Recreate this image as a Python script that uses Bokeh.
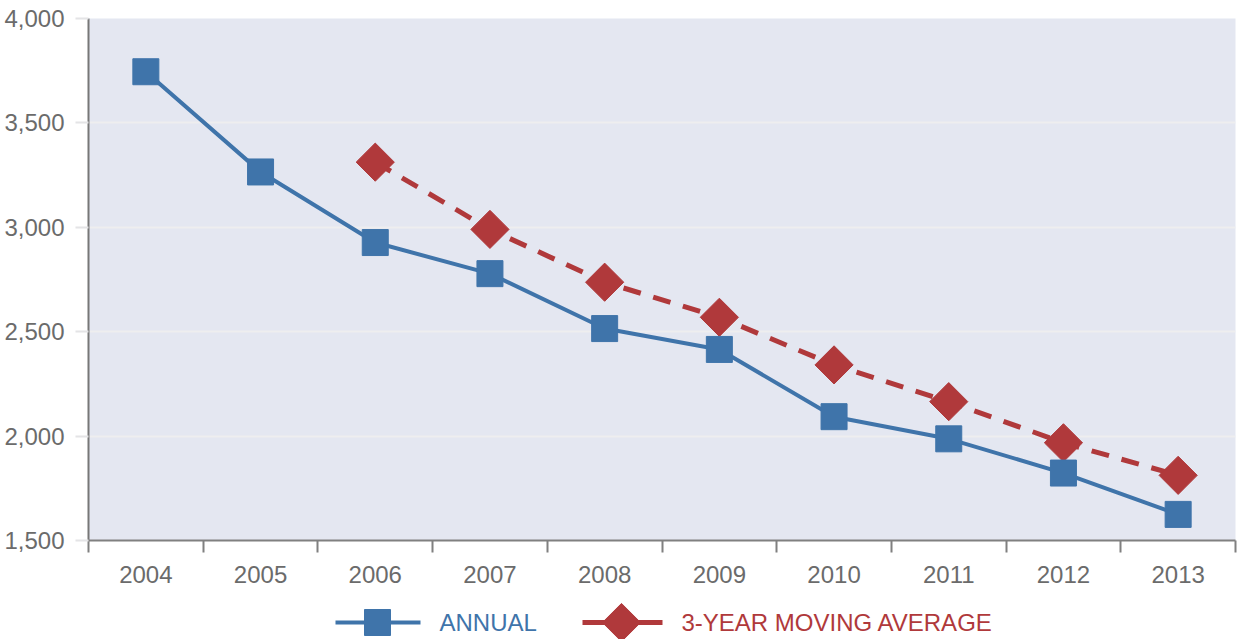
import numpy as np
from bokeh.plotting import figure
from bokeh.layouts import column
from bokeh.models import Range1d, FixedTicker, NumeralTickFormatter, ColumnDataSource
from bokeh.core.properties import value
from bokeh.embed import file_html
from bokeh.resources import INLINE

# ---- data ----
years = [2004, 2005, 2006, 2007, 2008, 2009, 2010, 2011, 2012, 2013]
annual = [3745, 3265, 2927, 2778, 2515, 2415, 2093, 1987, 1823, 1625]
ma_years = [2006, 2007, 2008, 2009, 2010, 2011, 2012, 2013]
moving_avg = [3312, 2990, 2737, 2569, 2341, 2165, 1968, 1812]
y_ticks = [1500, 2000, 2500, 3000, 3500, 4000]
series_names = ["ANNUAL", "3-YEAR MOVING AVERAGE"]

BLUE = "#3f74aa"
RED = "#b0393b"
GRAY = "#6b6b6b"
FONT = "'Liberation Sans Narrow', 'Arial Narrow', 'Liberation Sans', sans-serif"
FS = "24px"

p = figure(width=1237, height=590, output_backend="svg", toolbar_location=None,
           x_range=Range1d(years[0] - 0.5, years[-1] + 0.5),
           y_range=Range1d(y_ticks[0], y_ticks[-1]),
           min_border_left=88, min_border_top=18, min_border_bottom=50, min_border_right=2)
p.outline_line_color = None
p.background_fill_color = "#e4e7f1"
p.border_fill_color = "white"

# grid
p.xgrid.visible = False
p.ygrid.grid_line_color = "#eeeeef"
p.ygrid.grid_line_width = 2

# y axis
p.yaxis.ticker = FixedTicker(ticks=y_ticks)
p.yaxis.formatter = NumeralTickFormatter(format="0,0")
p.yaxis.axis_line_color = "#777777"
p.yaxis.axis_line_width = 2
p.yaxis.major_tick_line_color = "#e4e4e6"
p.yaxis.major_tick_line_width = 2
p.yaxis.major_tick_out = 13
p.yaxis.major_tick_in = 0
p.yaxis.minor_tick_line_color = None
p.yaxis.major_label_text_font = FONT
p.yaxis.major_label_text_font_size = FS
p.yaxis.major_label_text_color = GRAY
p.yaxis.major_label_standoff = 11

# x axis: labels at years, ticks at category boundaries
bounds = [y - 0.5 for y in years] + [years[-1] + 0.5]
p.xaxis.ticker = FixedTicker(ticks=years, minor_ticks=bounds)
p.xaxis.axis_line_color = "#808080"
p.xaxis.axis_line_width = 2
p.xaxis.major_tick_line_color = None
p.xaxis.minor_tick_line_color = "#808080"
p.xaxis.minor_tick_line_width = 2
p.xaxis.minor_tick_out = 12
p.xaxis.minor_tick_in = 0
p.xaxis.major_label_text_font = FONT
p.xaxis.major_label_text_font_size = FS
p.xaxis.major_label_text_color = GRAY
p.xaxis.major_label_standoff = 13

# series
src_a = ColumnDataSource(dict(x=years, y=annual))
src_m = ColumnDataSource(dict(x=ma_years, y=moving_avg))

p.line("x", "y", source=src_m, line_color=RED, line_width=5, line_dash="18 13")
p.scatter("x", "y", source=src_m, marker="square", size=27, angle=np.pi / 4,
          fill_color=RED, line_color=RED)
p.line("x", "y", source=src_a, line_color=BLUE, line_width=4)
p.scatter("x", "y", source=src_a, marker="square", size=26,
          fill_color=BLUE, line_color=BLUE)

# ---- legend strip (page-pixel coordinates; frame aligned with main frame) ----
lg = figure(width=1237, height=49, output_backend="svg", toolbar_location=None,
            x_range=Range1d(88, 1235), y_range=Range1d(0, 49),
            min_border_left=88, min_border_right=2,
            min_border_top=0, min_border_bottom=0)
lg.axis.visible = False
lg.grid.visible = False
lg.outline_line_color = None
lg.background_fill_color = "white"
lg.border_fill_color = "white"

ly = 17
lg.line([335, 420], [ly, ly], line_color=BLUE, line_width=4)
lg.scatter([377], [ly], marker="square", size=26, fill_color=BLUE, line_color=BLUE)
lg.text([439], [ly], text=[series_names[0]], text_color=BLUE, text_font=value(FONT),
        text_font_size=FS, text_baseline="middle", text_align="left")

lg.line([582, 662], [ly, ly], line_color=RED, line_width=5)
lg.scatter([621], [ly], marker="square", size=27, angle=np.pi / 4,
           fill_color=RED, line_color=RED)
lg.text([681], [ly], text=[series_names[1]], text_color=RED, text_font=value(FONT),
        text_font_size=FS, text_baseline="middle", text_align="left")

layout = column(p, lg, spacing=0)
open("out.html", "w").write(file_html(layout, INLINE))
